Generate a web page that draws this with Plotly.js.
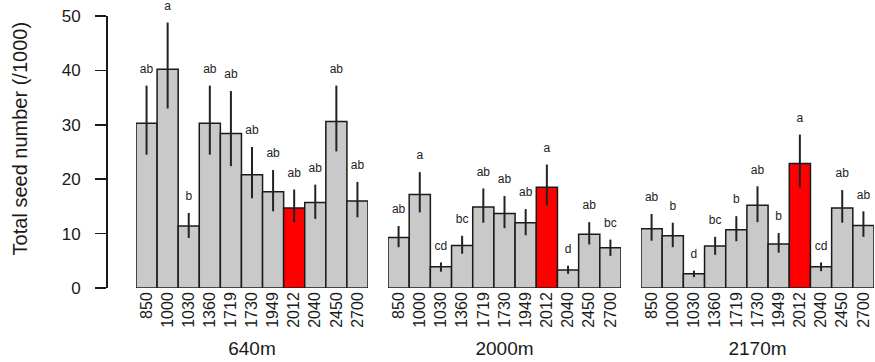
<!DOCTYPE html>
<html>
<head>
<meta charset="utf-8">
<script src="https://cdn.plot.ly/plotly-3.0.1.min.js"></script>
<style>html,body{margin:0;padding:0;background:#fff;}#chart{width:875px;height:362px;}</style>
</head>
<body>
<div id="chart"></div>
<script>
const categories = ['850','1000','1030','1360','1719','1730','1949','2012','2040','2450','2700'];
const sites = ['640m','2000m','2170m'];
const highlight = '2012';

const mean640 = [30.3,40.2,11.4,30.3,28.4,20.8,17.7,14.7,15.7,30.6,16.0];
const upper640 = [37.2,48.8,13.8,37.2,36.2,25.9,21.7,18.1,19.0,37.2,19.5];
const lower640 = [24.5,33.0,9.2,24.5,22.4,16.5,14.1,12.1,12.7,25.1,13.0];
const letters640 = ['ab','a','b','ab','ab','ab','ab','ab','ab','ab','ab'];

const mean2000 = [9.3,17.2,3.9,7.8,14.9,13.7,12.0,18.5,3.3,9.9,7.4];
const upper2000 = [11.4,21.3,4.7,9.6,18.3,16.9,14.5,22.7,4.1,12.1,8.9];
const lower2000 = [7.5,13.9,3.0,6.3,12.0,11.0,9.7,15.2,2.6,8.0,5.9];
const letters2000 = ['ab','a','cd','bc','ab','ab','ab','a','d','ab','bc'];

const mean2170 = [10.9,9.6,2.6,7.7,10.7,15.2,8.1,22.9,3.9,14.7,11.5];
const upper2170 = [13.6,12.0,3.2,9.4,13.2,18.7,10.1,28.2,4.7,18.0,14.1];
const lower2170 = [8.7,7.5,2.0,6.1,8.6,12.1,6.5,18.5,3.1,12.0,9.4];
const letters2170 = ['ab','b','d','bc','b','ab','b','a','cd','ab','ab'];

const yTicks = [0,10,20,30,40,50];
const yTitle = 'Total seed number (/1000)';

const panels = [
  {mean: mean640, upper: upper640, lower: lower640, letters: letters640},
  {mean: mean2000, upper: upper2000, lower: lower2000, letters: letters2000},
  {mean: mean2170, upper: upper2170, lower: lower2170, letters: letters2170}
];

const FONT = 'Liberation Sans, Arial, Helvetica, sans-serif';
const traces = [];
panels.forEach((p, i) => {
  const xa = i === 0 ? 'x' : 'x' + (i + 1);
  traces.push({
    type: 'bar', x: categories, y: p.mean, xaxis: xa, yaxis: 'y',
    marker: {color: categories.map(c => c === highlight ? '#ff0000' : '#c9c9c9'),
             line: {color: '#1a1a1a', width: 1.5}},
    error_y: {type: 'data', symmetric: false,
              array: p.upper.map((u, k) => u - p.mean[k]),
              arrayminus: p.mean.map((m, k) => m - p.lower[k]),
              color: '#222', thickness: 2, width: 0},
    hoverinfo: 'skip', showlegend: false
  });
  traces.push({
    type: 'scatter', mode: 'text+markers', x: categories, y: p.upper, xaxis: xa, yaxis: 'y',
    text: p.letters, textposition: 'top center',
    marker: {size: 14, color: 'rgba(0,0,0,0)'},
    textfont: {family: FONT, size: 12, color: '#222'},
    cliponaxis: false, hoverinfo: 'skip', showlegend: false
  });
});

const W = 768, L = 106;
const dom = (a, b) => [(a - L) / W, (b - L) / W];
const titleFont = {family: FONT, size: 19, color: '#1a1a1a'};
const xBase = {
  type: 'category', range: [-0.5, 10.5], tickangle: -90, ticks: '', showline: false,
  showgrid: false, zeroline: false, fixedrange: true,
  tickfont: {family: FONT, size: 16, color: '#1a1a1a'}
};
const layout = {
  width: 875, height: 362,
  margin: {l: L, r: 1, t: 16, b: 74},
  paper_bgcolor: '#fff', plot_bgcolor: '#fff',
  bargap: 0,
  font: {family: FONT, color: '#1a1a1a'},
  xaxis: Object.assign({}, xBase, {domain: dom(136, 368), anchor: 'y',
    title: {text: sites[0], font: titleFont, standoff: 14}}),
  xaxis2: Object.assign({}, xBase, {domain: dom(388, 621), anchor: 'y',
    title: {text: sites[1], font: titleFont, standoff: 14}}),
  xaxis3: Object.assign({}, xBase, {domain: dom(641, 874), anchor: 'y',
    title: {text: sites[2], font: titleFont, standoff: 14}}),
  yaxis: {
    anchor: 'free', position: 0,
    range: [0, 50], tickvals: yTicks, ticks: 'outside', ticklen: 11, tickwidth: 1.5,
    tickcolor: '#1a1a1a', showline: true, linecolor: '#1a1a1a', linewidth: 1.5,
    showgrid: false, zeroline: false, ticklabelstandoff: 11,
    tickfont: {family: FONT, size: 17, color: '#1a1a1a'}
  },
  annotations: [{
    text: yTitle, xref: 'paper', yref: 'paper', x: -0.112, y: 0.55,
    xanchor: 'center', yanchor: 'middle', textangle: -90, showarrow: false,
    font: {family: FONT, size: 20, color: '#1a1a1a'}
  }]
};
Plotly.newPlot('chart', traces, layout, {displayModeBar: false, staticPlot: true});
</script>
</body>
</html>
